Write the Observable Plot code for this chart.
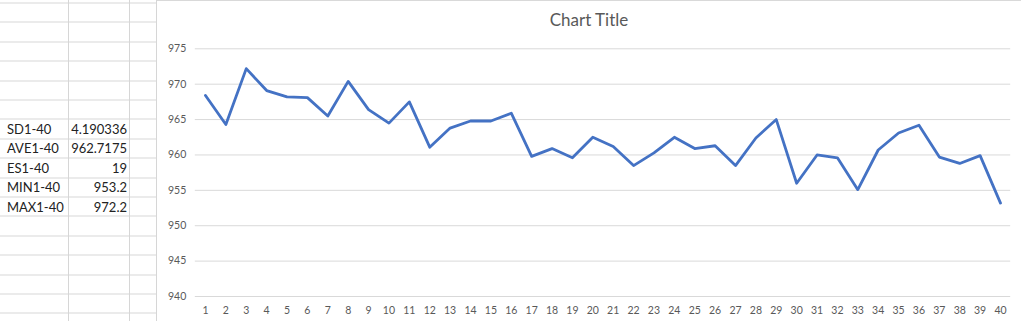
<!DOCTYPE html>
<html>
<head>
<meta charset="utf-8">
<script src="https://cdn.jsdelivr.net/npm/d3@7"></script>
<script src="https://cdn.jsdelivr.net/npm/@observablehq/plot@0.6"></script>
<style>
  html, body { margin: 0; padding: 0; background: #fff; }
  #page { position: relative; width: 1021px; height: 321px; overflow: hidden; font-family: Lato, "Open Sans", sans-serif; }
  #sheet { position: absolute; left: 0; top: 0; width: 157px; height: 321px;
    background: repeating-linear-gradient(to bottom, #d6d6d6 0 1px, transparent 1px 19.4px);
    background-position: 0 2.5px; }
  .vline { position: absolute; top: 0; width: 1px; height: 321px; background: #d6d6d6; }
  .cell { position: absolute; height: 19.4px; line-height: 19.4px; font-size: 13px; color: #222; }
  #chart { position: absolute; left: 157px; top: 0; width: 864px; height: 321px; background: #fff; border-top: 1px solid #d9d9d9; box-sizing: border-box; }
  #title { position: absolute; left: 0; width: 864px; top: 8px; text-align: center; font-size: 17px; color: #595959; }
  #plot { position: absolute; left: 0; top: 31px; }
</style>
</head>
<body>
<div id="page">
  <div id="sheet"></div>
  <div id="chart">
    <div id="title">Chart Title</div>
    <div id="plot"></div>
  </div>
</div>
<script>
// Spreadsheet statistics
const statLabels = ["SD1-40", "AVE1-40", "ES1-40", "MIN1-40", "MAX1-40"];
const statValues = ["4.190336", "962.7175", "19", "953.2", "972.2"];

// Chart data
const categories = [1, 2, 3, 4, 5, 6, 7, 8, 9, 10, 11, 12, 13, 14, 15, 16, 17, 18, 19, 20,
  21, 22, 23, 24, 25, 26, 27, 28, 29, 30, 31, 32, 33, 34, 35, 36, 37, 38, 39, 40];
const values = [
  968.4, 964.3, 972.2, 969.1, 968.2, 968.1, 965.5, 970.4, 966.4, 964.5,
  967.5, 961.1, 963.8, 964.8, 964.8, 965.9, 959.8, 960.9, 959.6, 962.5,
  961.2, 958.5, 960.3, 962.5, 960.9, 961.3, 958.5, 962.4, 965.0, 956.0,
  960.0, 959.6, 955.1, 960.7, 963.1, 964.2, 959.7, 958.8, 959.9, 953.2
];
const yTicks = [940, 945, 950, 955, 960, 965, 970, 975];

// Build sheet
const sheet = document.getElementById("sheet");
[67.5, 129, 156].forEach(x => {
  const d = document.createElement("div");
  d.className = "vline"; d.style.left = x + "px";
  sheet.appendChild(d);
});
statLabels.forEach((lab, i) => {
  const top = 2.5 + (6 + i) * 19.4 + 1;
  const a = document.createElement("div");
  a.className = "cell"; a.style.left = "7px"; a.style.top = top + "px"; a.textContent = lab;
  sheet.appendChild(a);
  const b = document.createElement("div");
  b.className = "cell"; b.style.left = "68px"; b.style.width = "59px"; b.style.textAlign = "right";
  b.style.top = top + "px"; b.textContent = statValues[i];
  sheet.appendChild(b);
});

const data = categories.map((c, i) => ({cat: c, value: values[i]}));

const chart = Plot.plot({
  width: 864,
  height: 290,
  marginLeft: 37.8,
  marginRight: 10.8,
  marginTop: 16.3,
  marginBottom: 26,
  style: {fontFamily: "Lato, 'Open Sans', sans-serif", fontSize: "10.5px", color: "#595959", background: "transparent"},
  x: {type: "linear", domain: [0.5, categories.length + 0.5]},
  y: {domain: [940, 975]},
  marks: [
    Plot.gridY(yTicks, {stroke: "#d9d9d9", strokeOpacity: 1}),
    Plot.axisY(yTicks, {tickSize: 0, tickPadding: 9, label: null, fill: "#595959"}),
    Plot.axisX(categories, {tickSize: 0, tickPadding: 10, label: null, fill: "#595959", tickFormat: d => String(d)}),
    Plot.line(data, {x: "cat", y: "value", stroke: "#4472C4", strokeWidth: 2.8, strokeLinejoin: "round", strokeLinecap: "round"})
  ]
});
document.getElementById("plot").appendChild(chart);
</script>
</body>
</html>
